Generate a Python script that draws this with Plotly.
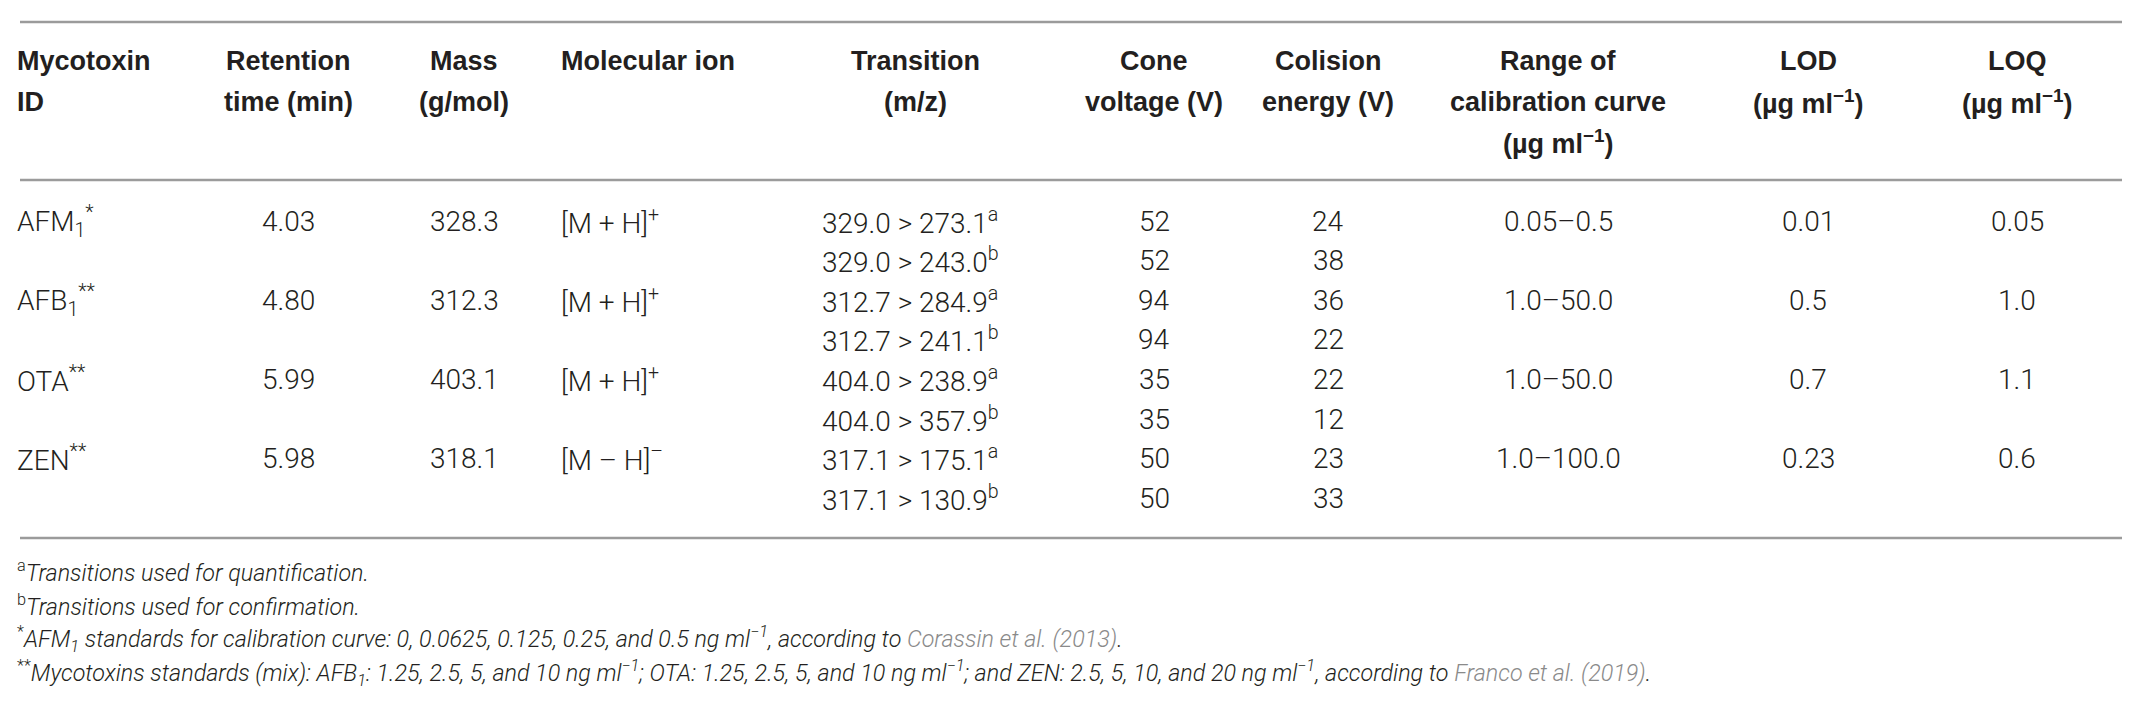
import plotly.graph_objects as go

# table data
mycotoxin_ids = ["AFM<sub>1</sub><sup>*</sup>", "AFB<sub>1</sub><sup>**</sup>", "OTA<sup>**</sup>", "ZEN<sup>**</sup>"]
retention_min = ["4.03", "4.80", "5.99", "5.98"]
mass_gmol = ["328.3", "312.3", "403.1", "318.1"]
molecular_ion = ["[M + H]<sup>+</sup>", "[M + H]<sup>+</sup>", "[M + H]<sup>+</sup>", "[M – H]<sup>–</sup>"]
precursor_mz = ["329.0", "329.0", "312.7", "312.7", "404.0", "404.0", "317.1", "317.1"]
product_mz = ["273.1", "243.0", "284.9", "241.1", "238.9", "357.9", "175.1", "130.9"]
transition_use = ["a", "b", "a", "b", "a", "b", "a", "b"]
cone_voltage = [52, 52, 94, 94, 35, 35, 50, 50]
collision_energy = [24, 38, 36, 22, 22, 12, 23, 33]
calib_range = ["0.05–0.5", "1.0–50.0", "1.0–50.0", "1.0–100.0"]
lod = ["0.01", "0.5", "0.7", "0.23"]
loq = ["0.05", "1.0", "1.1", "0.6"]

unit = "(µg ml<sup>−1</sup>)"
headers = [
    ["Mycotoxin", "ID"],
    ["Retention", "time (min)"],
    ["Mass", "(g/mol)"],
    ["Molecular ion"],
    ["Transition", "(m/z)"],
    ["Cone", "voltage (V)"],
    ["Colision", "energy (V)"],
    ["Range of", "calibration curve", unit],
    ["LOD", unit],
    ["LOQ", unit],
]

footnotes = [
    "<sup>a</sup><i>Transitions used for quantification.</i>",
    "<sup>b</sup><i>Transitions used for confirmation.</i>",
    "<sup>*</sup><i>AFM<sub>1</sub> standards for calibration curve: 0, 0.0625, 0.125, 0.25, and 0.5 ng ml<sup>−1</sup>, according to "
    "<span style='color:#8a8a8a'>Corassin et al. (2013)</span>.</i>",
    "<sup>**</sup><i>Mycotoxins standards (mix): AFB<sub>1</sub>: 1.25, 2.5, 5, and 10 ng ml<sup>−1</sup>; OTA: 1.25, 2.5, 5, and 10 ng ml<sup>−1</sup>; "
    "and ZEN: 2.5, 5, 10, and 20 ng ml<sup>−1</sup>, according to <span style='color:#8a8a8a'>Franco et al. (2019)</span>.</i>",
]

# layout (pixel units)
W, H = 2130, 706
col_x = [7, 280, 456, 551, 907, 1146, 1320, 1550, 1800, 2009]
col_align = ["left", "center", "center", "left", "center", "center", "center", "center", "center", "center"]
trans_left = 812
head_y0, head_dy = 53, 40.5
row_y0, row_dy = 213, 39.6
rules_y = [14, 172, 530]
note_y = [563, 597, 631, 665]

TXT = "#231f20"
body_font = dict(family="Roboto, Liberation Sans, Arial", size=28, color=TXT, weight=300)
head_font = dict(family="Liberation Sans, Arial", size=27, color=TXT, weight="bold")
note_font = dict(family="Roboto, Liberation Sans, Arial", size=23.3, color=TXT, weight=300)

fig = go.Figure()
ann = []


def add(x, y, text, font, anchor):
    ann.append(dict(x=x, y=y, xref="x", yref="y", text=text, showarrow=False,
                    font=font, xanchor=anchor, yanchor="middle", align=anchor))


# header
for c, lines in enumerate(headers):
    for j, t in enumerate(lines):
        add(col_x[c], head_y0 + j * head_dy, "<b>" + t + "</b>", head_font, col_align[c])

# main rows (one per mycotoxin, every second sub-row)
main_cols = [mycotoxin_ids, retention_min, mass_gmol, molecular_ion]
for i in range(len(mycotoxin_ids)):
    y = row_y0 + 2 * i * row_dy
    for c, vals in enumerate(main_cols):
        add(col_x[c], y, vals[i], body_font, col_align[c])
    add(col_x[7], y, calib_range[i], body_font, "center")
    add(col_x[8], y, lod[i], body_font, "center")
    add(col_x[9], y, loq[i], body_font, "center")

# transition sub-rows
for k in range(len(precursor_mz)):
    y = row_y0 + k * row_dy
    add(trans_left, y, f"{precursor_mz[k]} > {product_mz[k]}<sup>{transition_use[k]}</sup>", body_font, "left")
    add(col_x[5], y, str(cone_voltage[k]), body_font, "center")
    add(col_x[6], y, str(collision_energy[k]), body_font, "center")

for n, t in enumerate(footnotes):
    add(7, note_y[n], t, note_font, "left")

shapes = [dict(type="line", xref="x", yref="y", x0=12, x1=2119, y0=y, y1=y,
               line=dict(color="#9b9b9b", width=2.5)) for y in rules_y]

fig.update_layout(
    width=W, height=H,
    margin=dict(l=0, r=0, t=0, b=0),
    paper_bgcolor="white", plot_bgcolor="white",
    xaxis=dict(range=[0, W], visible=False, fixedrange=True),
    yaxis=dict(range=[H, 0], visible=False, fixedrange=True),
    annotations=ann, shapes=shapes, showlegend=False,
)

fig.write_html("out.html")
